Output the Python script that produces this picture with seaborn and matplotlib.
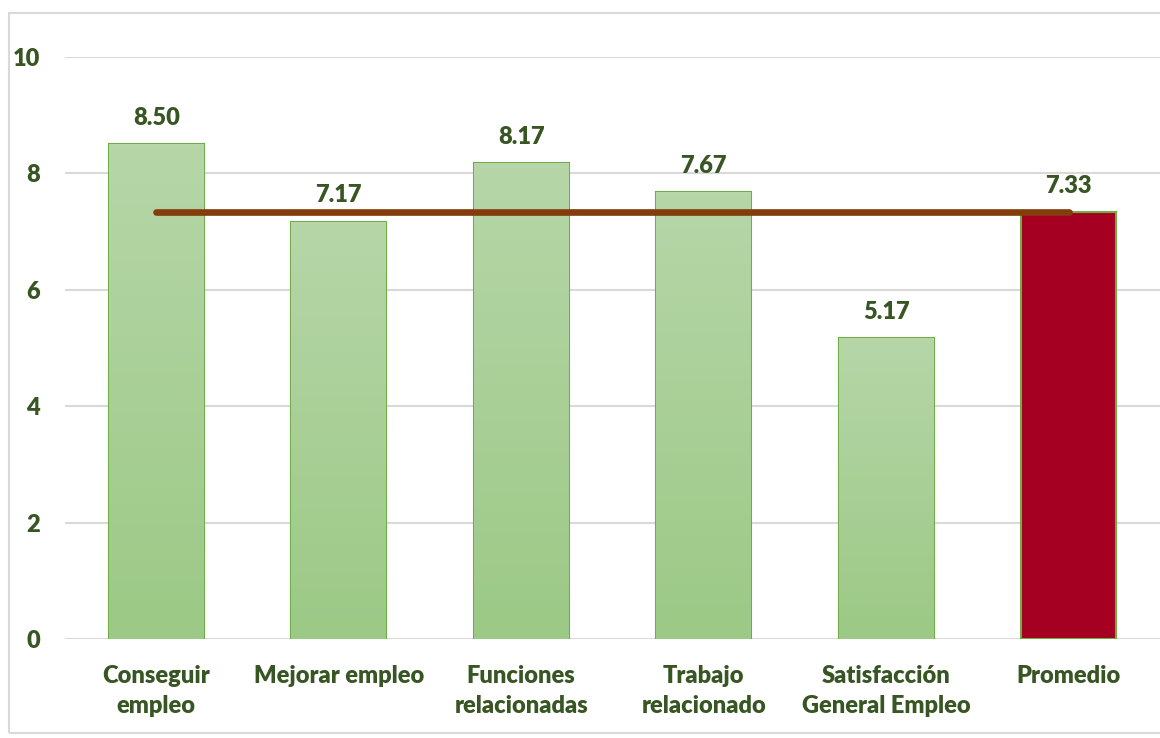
import numpy as np
import pandas as pd
import matplotlib
matplotlib.use("Agg")
import matplotlib.pyplot as plt
from matplotlib.colors import LinearSegmentedColormap
from matplotlib.patches import Rectangle
import seaborn as sns

categories = ["Conseguir\nempleo", "Mejorar empleo", "Funciones\nrelacionadas",
              "Trabajo\nrelacionado", "Satisfacción\nGeneral Empleo", "Promedio"]
scores = [8.50, 7.17, 8.17, 7.67, 5.17, 7.33]
average = 7.33
y_ticks = [0, 2, 4, 6, 8, 10]

text_green = "#375623"
edge_green = "#70AD47"
bar_red = "#A50021"
line_brown = "#843C0C"
FS = 17

sns.set_theme(style="white")
plt.rcParams["font.family"] = ["Lato", "DejaVu Sans"]
plt.rcParams["font.weight"] = "heavy"

df = pd.DataFrame({"categoria": categories, "valor": scores})

fig = plt.figure(figsize=(11.6, 7.38), dpi=100)
ax = fig.add_axes([0.056, 0.134, 0.944, 0.789])

palette = ["#A9D099"] * (len(categories) - 1) + [bar_red]
sns.barplot(data=df, x="categoria", y="valor", hue="categoria", palette=palette,
            saturation=1, legend=False, width=0.52, edgecolor=edge_green, linewidth=1.5,
            ax=ax, zorder=3)

# gradient fill on the green bars
grad = LinearSegmentedColormap.from_list("g", ["#9CC986", "#B6D6A8"])
for patch in ax.patches[:-1]:
    x0, y0 = patch.get_x(), patch.get_y()
    w, h = patch.get_width(), patch.get_height()
    im = ax.imshow(np.linspace(0, 1, 100).reshape(-1, 1), cmap=grad, origin="lower",
                   extent=[x0, x0 + w, y0, y0 + h], aspect="auto", zorder=3)
    im.set_clip_path(patch)

# average line from first to last category
line_df = pd.DataFrame({"categoria": categories, "prom": [average] * len(categories)})
sns.lineplot(data=line_df, x="categoria", y="prom", color=line_brown, linewidth=4.8,
             solid_capstyle="round", ax=ax, zorder=5)

for i, v in enumerate(scores):
    ax.annotate(f"{v:.2f}", (i, v), xytext=(0, 11), textcoords="offset points",
                ha="center", va="bottom", fontsize=FS, fontweight="heavy", color=text_green)

ax.set_xlim(-0.5, len(categories) - 0.5)
ax.set_ylim(0, 10)
ax.set_yticks(y_ticks)
ax.yaxis.grid(True, color="#D9D9D9", linewidth=1.5, zorder=0)
ax.set_axisbelow(True)
for s in ax.spines.values():
    s.set_visible(False)
ax.tick_params(axis="y", length=0, pad=18, labelsize=FS, labelcolor=text_green)
ax.tick_params(axis="x", length=0, pad=19, labelsize=FS, labelcolor=text_green)
for lbl in ax.get_xticklabels() + ax.get_yticklabels():
    lbl.set_fontweight("heavy")
for lbl in ax.get_xticklabels():
    lbl.set_linespacing(1.42)
ax.set_xlabel("")
ax.set_ylabel("")

fig.patches.append(Rectangle((9 / 1160, 5 / 738), 1.2, 720 / 738, transform=fig.transFigure,
                             fill=False, edgecolor="#D9D9D9", linewidth=1.5))

fig.savefig("out.png", dpi=100)
